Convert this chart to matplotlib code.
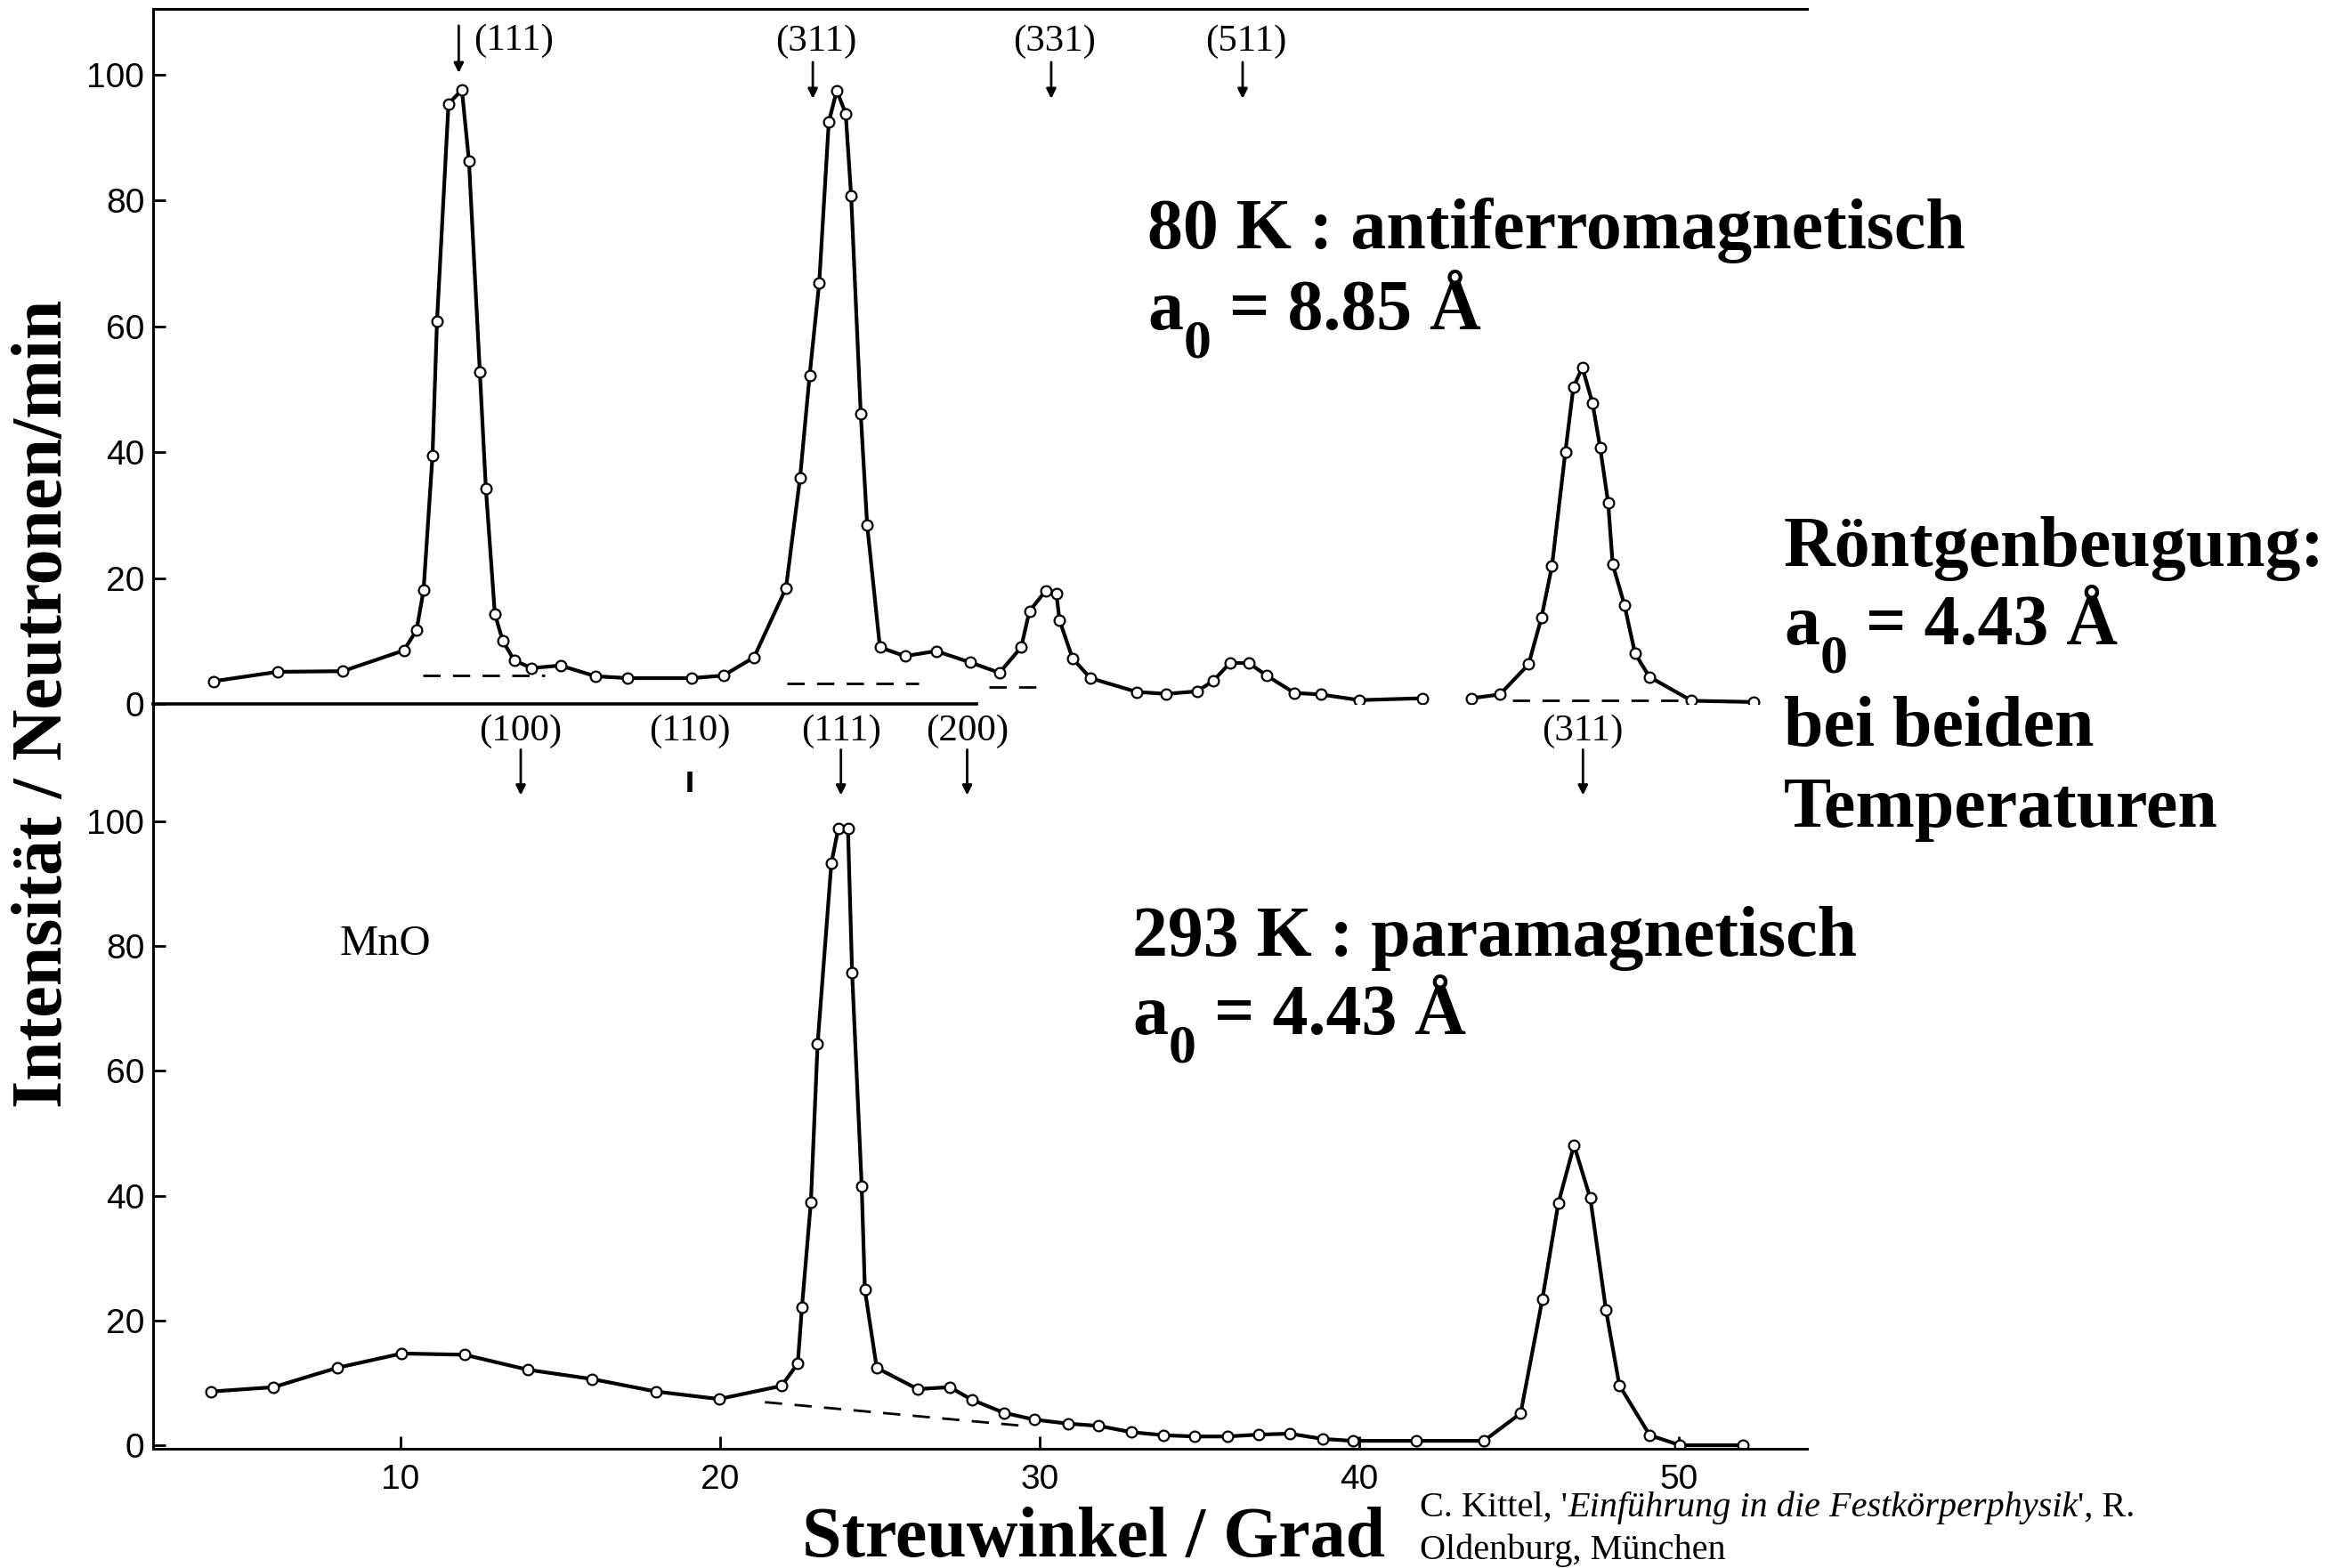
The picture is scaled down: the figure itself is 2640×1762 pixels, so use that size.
import matplotlib
matplotlib.use('Agg')
import matplotlib.pyplot as plt

# ---------------- data ----------------
# 80 K (antiferromagnetic) scan: scattering angle (deg) and intensity (neutrons/min)
top_angle_a = [4.14, 6.15, 8.19, 10.1, 10.5, 10.72, 11.0, 11.14, 11.5, 11.92, 12.14, 12.48,
               12.67, 12.95, 13.2, 13.56, 14.1, 15.0, 16.1, 17.1, 19.1, 20.1, 21.06, 22.06,
               22.5, 22.8, 23.1, 23.4, 23.65, 23.93, 24.1, 24.4, 24.6, 25.0, 25.78, 26.76,
               27.83, 28.74, 29.42, 29.68, 30.19, 30.52, 30.62, 31.03, 31.59, 33.04, 33.96,
               34.93, 35.44, 35.95, 36.55, 37.1, 37.97, 38.8, 40.0, 41.97]
top_count_a = [3.6, 5.1, 5.2, 8.5, 11.7, 18.1, 39.5, 60.8, 95.4, 97.6, 86.3, 52.8,
               34.2, 14.3, 10.0, 6.9, 5.7, 6.1, 4.4, 4.1, 4.1, 4.5, 7.4, 18.4,
               35.9, 52.2, 66.9, 92.5, 97.5, 93.8, 80.7, 46.1, 28.5, 9.0, 7.6, 8.4,
               6.6, 4.95, 9.0, 14.75, 18.0, 17.6, 13.3, 7.2, 4.1, 1.9, 1.6,
               2.0, 3.7, 6.5, 6.5, 4.5, 1.75, 1.5, 0.6, 0.9]
top_angle_b = [43.5, 44.4, 45.3, 45.7, 46.03, 46.45, 46.7, 46.98, 47.3, 47.54, 47.79,
               47.93, 48.3, 48.63, 49.08, 50.4, 52.35]
top_count_b = [0.9, 1.5, 6.3, 13.7, 21.9, 40.1, 50.3, 53.5, 47.8, 40.7, 31.9,
               22.2, 15.7, 8.0, 4.3, 0.5, 0.3]

# 293 K (paramagnetic) scan
bot_angle = [4.07, 6.02, 8.01, 10.04, 12.0, 13.98, 16.0, 18.0, 19.96, 21.92, 22.43, 22.56,
             22.84, 23.05, 23.48, 23.7, 24.0, 24.13, 24.43, 24.53, 24.9, 26.18, 27.19,
             27.87, 28.88, 29.83, 30.9, 31.85, 32.86, 33.88, 34.85, 35.88, 36.85, 37.82,
             38.87, 39.8, 41.77, 43.9, 45.05, 45.73, 46.23, 46.72, 47.23, 47.72, 48.14,
             49.09, 50.04, 52.0]
bot_count = [8.6, 9.3, 12.4, 14.7, 14.5, 12.1, 10.6, 8.6, 7.4, 9.5, 13.1, 22.1,
             39.0, 64.3, 93.3, 98.9, 98.9, 75.7, 41.5, 24.9, 12.4, 9.0, 9.3,
             7.3, 5.2, 4.1, 3.45, 3.1, 2.1, 1.6, 1.4, 1.4, 1.7, 1.85,
             1.0, 0.7, 0.7, 0.7, 5.1, 23.4, 38.8, 48.1, 39.6, 21.7, 9.6,
             1.6, 0.0, 0.0]

# dashed background lines (start/end angle, start/end level)
top_bg_x = [(10.7, 14.5), (22.1, 26.2), (28.4, 30.2), (44.8, 50.0)]
top_bg_y = [(4.5, 4.5), (3.3, 3.3), (2.7, 2.7), (0.5, 0.5)]
bot_bg_x = [(21.4, 29.7)]
bot_bg_y = [(6.9, 3.0)]

# reflection labels
top_refl = ['(111)', '(311)', '(331)', '(511)']
top_refl_pos = [11.82, 22.9, 30.36, 36.35]
bot_refl = ['(100)', '(110)', '(111)', '(200)', '(311)']
bot_refl_pos = [13.76, 19.05, 23.78, 27.73, 47.0]

y_ticks = [0, 20, 40, 60, 80, 100]
x_ticks = [10, 20, 30, 40, 50]

# ---------------- layout ----------------
W, H = 2640, 1762
plt.rcParams['font.family'] = ['Liberation Serif', 'DejaVu Serif']

fig = plt.figure(figsize=(W / 100, H / 100), dpi=100)


def fx(px):
    return px / W


def fy(py):
    return 1 - py / H


X0, X1 = (172 - 91) / 35.9, (2030 - 91) / 35.9
axw = fx(2030) - fx(172)
ax_top = fig.add_axes([fx(172), fy(791), axw, (791 - 10) / H])
ax_bot = fig.add_axes([fx(172), fy(1628), axw, (1628 - 791) / H])
for ax in (ax_top, ax_bot):
    ax.set_facecolor('none')
    ax.set_xlim(X0, X1)
    for s in ax.spines.values():
        s.set_linewidth(2.2)
    ax.spines['right'].set_visible(False)
    ax.tick_params(direction='in', length=10, width=2, labelsize=28,
                   labelfontfamily='Liberation Sans', pad=7)
    ax.set_yticks(y_ticks)

ax_top.set_ylim(0, 110.47)
ax_top.spines['bottom'].set_visible(False)
ax_top.set_xticks([])
ax_top.axhline(0, xmin=0, xmax=(28.02 - X0) / (X1 - X0), color='k', lw=2.6, clip_on=False)

ax_bot.set_ylim(-0.57, 118.83)
ax_bot.spines['top'].set_visible(False)
ax_bot.set_xticks(x_ticks)
ax_bot.tick_params(axis='x', pad=12)

line_kw = dict(color='black', lw=3, marker='o', ms=8.5, mfc='white', mec='black', mew=1.6,
               solid_joinstyle='round')
ax_top.plot(top_angle_a, top_count_a, **line_kw)
ax_top.plot(top_angle_b, top_count_b, **line_kw)
ax_bot.plot(bot_angle, bot_count, **line_kw)

dash_kw = dict(color='black', lw=2, ls=(0, (7, 5)))
for xs, ys in zip(top_bg_x, top_bg_y):
    ax_top.plot(xs, ys, **dash_kw)
for xs, ys in zip(bot_bg_x, bot_bg_y):
    ax_bot.plot(xs, ys, **dash_kw)

arrow_kw = dict(arrowstyle='-|>', color='black', lw=2, mutation_scale=16, shrinkA=0, shrinkB=0)
lab_kw = dict(fontsize=31, va='center')

# top reflections
ax_top.annotate('', xy=(top_refl_pos[0], 100.3), xytext=(top_refl_pos[0], 107.8), arrowprops=arrow_kw)
ax_top.text(12.28, 105.4, top_refl[0], ha='left', **lab_kw)
for lab, x in zip(top_refl[1:], top_refl_pos[1:]):
    ax_top.annotate('', xy=(x, 96.2), xytext=(x, 102.0), arrowprops=arrow_kw)
    ax_top.text(x + 0.1, 105.3, lab, ha='center', **lab_kw)

# bottom reflections
for lab, x in zip(bot_refl, bot_refl_pos):
    if lab == '(110)':
        ax_bot.plot([x, x], [104.7, 108.0], color='black', lw=4, solid_capstyle='butt')
    else:
        ax_bot.annotate('', xy=(x, 104.2), xytext=(x, 111.5), arrowprops=arrow_kw)
    ax_bot.text(x, 114.5, lab, ha='center', **lab_kw)

ax_bot.text((382 - 91) / 35.9, (1624 - 1073) / 7.01, 'MnO', fontsize=35, ha='left', va='baseline')

# ---------------- annotations ----------------
BIG = 57.5
big = dict(fontsize=BIG, fontweight='bold', ha='left', va='baseline')


def a0_line(px, py, rest):
    ta = fig.text(fx(px), fy(py), 'a', **big)
    t0 = fig.add_artist(plt.Annotation('0', xy=(1, 0), xycoords=ta, xytext=(1, -27),
                                       textcoords='offset pixels', fontsize=44.5,
                                       fontweight='bold', ha='left', va='bottom'))
    fig.add_artist(plt.Annotation(rest, xy=(1, 0), xycoords=(t0, ta), fontsize=BIG,
                                  fontweight='bold', ha='left', va='bottom'))


fig.text(fx(1289), fy(279), '80 K : antiferromagnetisch', **big)
a0_line(1289, 370, ' = 8.85 Å')
fig.text(fx(2004), fy(636), 'Röntgenbeugung:', **big)
a0_line(2004, 724, ' = 4.43 Å')
fig.text(fx(2004), fy(838), 'bei beiden', **big)
fig.text(fx(2004), fy(929), 'Temperaturen', **big)
fig.text(fx(1272), fy(1074), '293 K : paramagnetisch', **big)
a0_line(1272, 1162, ' = 4.43 Å')

fig.text(fx(901), fy(1749), 'Streuwinkel / Grad', **big)
fig.text(fx(50), fy(791), 'Intensität / Neutronen/min', fontsize=BIG, fontweight='bold',
         rotation=90, ha='center', va='center')

CIT = 29
t1 = fig.text(fx(1595), fy(1704), "C. Kittel, '", fontsize=CIT, ha='left', va='baseline')
a2 = fig.add_artist(plt.Annotation('Einführung in die Festkörperphysik', xy=(1, 0), xycoords=t1,
                                   fontsize=CIT, style='italic', ha='left', va='bottom'))
fig.add_artist(plt.Annotation("', R.", xy=(1, 0), xycoords=a2, fontsize=CIT,
                              ha='left', va='bottom'))
fig.text(fx(1595), fy(1752), 'Oldenburg, München', fontsize=CIT, ha='left', va='baseline')

fig.savefig('out.png', dpi=100)
